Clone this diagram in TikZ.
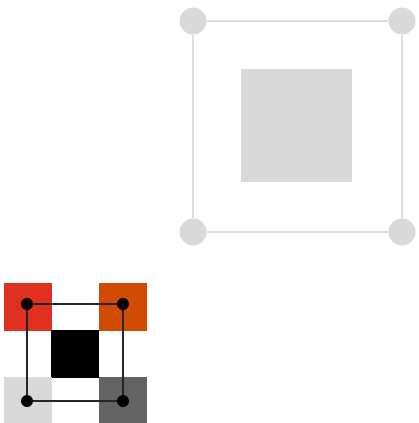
\documentclass[tikz,border=0pt]{standalone}
\usepackage{tikz}
\usetikzlibrary{positioning}
\definecolor{tilered}{HTML}{E03020}
\definecolor{tileorange}{HTML}{D14B02}
\definecolor{tilelight}{HTML}{D9D9D9}
\definecolor{tiledark}{HTML}{636363}
\definecolor{frameline}{HTML}{DDDDDD}

\begin{document}
\begin{tikzpicture}[
    x=1pt, y=-1pt,
    tile/.style={draw=none, inner sep=0pt, minimum width=48pt, minimum height=48pt, anchor=north west},
    dot/.style={circle, fill=black, inner sep=0pt, minimum size=12pt},
    knob/.style={circle, fill=tilelight, inner sep=0pt, minimum size=27pt},
    wire/.style={line width=1.1pt, color=black!85},
    frame/.style={line width=1.3pt, color=frameline},
]
\useasboundingbox (0,0) rectangle (419,423);
% upper right: grey frame
\node[draw=none, fill=tilelight, inner sep=0pt, minimum width=111pt, minimum height=113pt, anchor=north west] (core) at (241,69) {};
\node[knob] (K1) at (193,21) {};
\node[knob] (K2) at (402,21) {};
\node[knob] (K3) at (193,232) {};
\node[knob] (K4) at (402,232) {};
\draw[frame] (K1) -- (K2);
\draw[frame] (K2) -- (K4);
\draw[frame] (K4) -- (K3);
\draw[frame] (K3) -- (K1);
% lower left: tiles
\node[tile, fill=tilered] (S1) at (4,283) {};
\node[tile, fill=tileorange] (S2) at (99,283) {};
\node[tile, fill=black] (S0) at (51,330) {};
\node[tile, fill=tilelight, minimum height=46pt] (S3) at (4,377) {};
\node[tile, fill=tiledark, minimum height=46pt] (S4) at (99,377) {};
\node[dot] (D1) at (27,304) {};
\node[dot] (D2) at (123,304) {};
\node[dot] (D3) at (27,401) {};
\node[dot] (D4) at (123,401) {};
\draw[wire] (D1) -- (D2);
\draw[wire] (D2) -- (D4);
\draw[wire] (D4) -- (D3);
\draw[wire] (D3) -- (D1);
\end{tikzpicture}
\end{document}
